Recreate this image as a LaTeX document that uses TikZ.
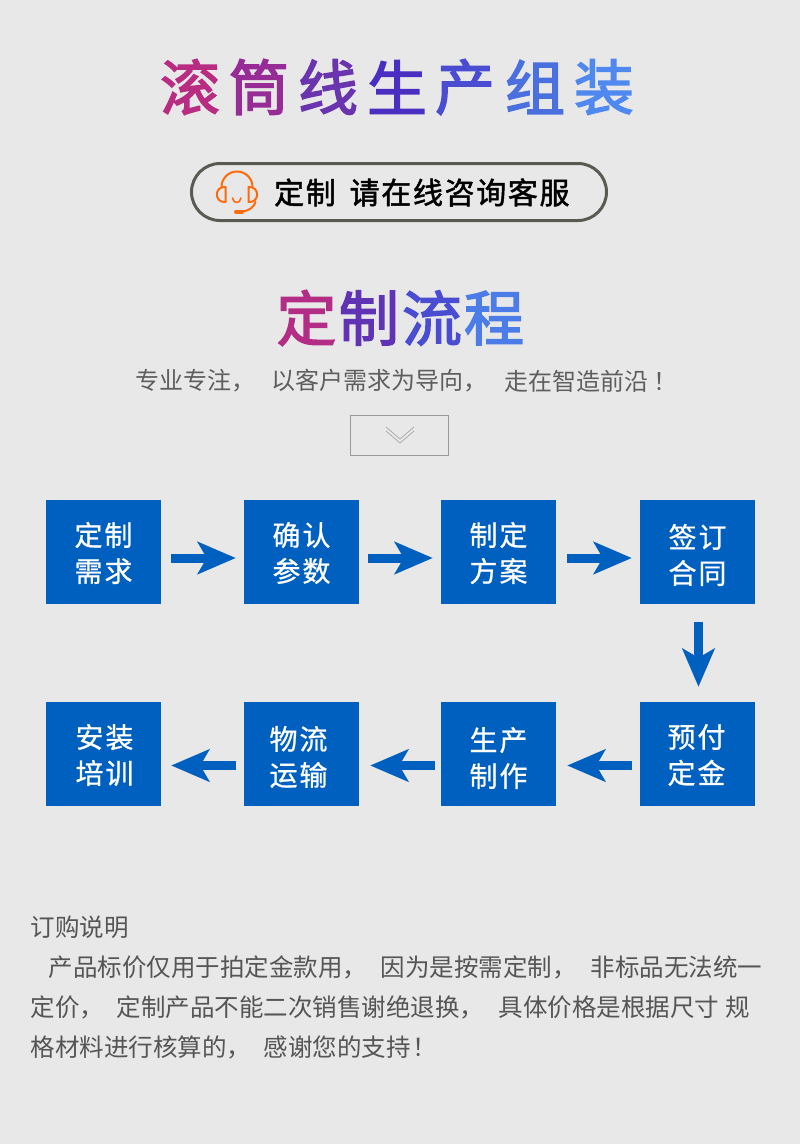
\documentclass[tikz,border=0pt]{standalone}
\usepackage{fontspec}
\usetikzlibrary{arrows.meta}
\newfontfamily\cjk{Noto Sans CJK SC}
\newfontfamily\cjktitle[FakeBold=2.4]{Noto Sans CJK SC}
\newfontfamily\cjkbox[LetterSpace=7,FakeBold=0.8]{Noto Sans CJK SC}
\newfontfamily\cjkpill[LetterSpace=5.5,FakeBold=1.6]{Noto Sans CJK SC}
\definecolor{bgc}{HTML}{E8E8E8}
\definecolor{bluec}{HTML}{0060C0}
\definecolor{orangec}{HTML}{FF6A0A}
\definecolor{pillc}{HTML}{5A5A52}
\definecolor{subc}{HTML}{5E5E5E}
\definecolor{parac}{HTML}{555555}
\definecolor{ga}{HTML}{B82C82}
\definecolor{gb}{HTML}{982C96}
\definecolor{gc}{HTML}{6A34AE}
\definecolor{gd}{HTML}{4A2EC2}
\definecolor{ge}{HTML}{4A4CD2}
\definecolor{gf}{HTML}{4A70E0}
\definecolor{gg}{HTML}{4F88EE}
\tikzset{
  x=1pt,y=-1pt,
  titlechar/.style={inner sep=0,font=\cjktitle\fontsize{60}{60}\selectfont,anchor=center},
  boxn/.style={fill=bluec,draw=none,inner sep=0,minimum width=115pt,minimum height=104pt,anchor=center},
  boxt/.style={inner sep=0,text=white,align=center,font=\cjkbox\fontsize{28}{36}\selectfont,anchor=center},
  flow/.style={draw=bluec,line width=9pt,-{Stealth[length=38pt 0,width=32pt 0,inset=9pt 0]}},
  sub/.style={inner sep=0,anchor=west,text=subc,font=\cjk\fontsize{24}{24}\selectfont},
  para/.style={inner sep=0,anchor=west,text=parac,font=\cjk\fontsize{24.5}{24.5}\selectfont},
  pilltext/.style={inner sep=0,anchor=west,text=black,font=\cjkpill\fontsize{30}{30}\selectfont},
  headset/.style={draw=orangec,line width=2pt,line cap=round,line join=round}
}
\begin{document}
\begin{tikzpicture}
\useasboundingbox (0,0) rectangle (800,1144);
\fill[bgc] (0,0) rectangle (800,1144);
% title
\node[titlechar,text=ga] (t1) at (190,87) {滚};
\node[titlechar,text=gb] (t2) at (259,87) {筒};
\node[titlechar,text=gc] (t3) at (328,87) {线};
\node[titlechar,text=gd] (t4) at (397,87) {生};
\node[titlechar,text=ge] (t5) at (465,87) {产};
\node[titlechar,text=gf] (t6) at (535,87) {组};
\node[titlechar,text=gg] (t7) at (604,87) {装};
% pill
\draw[pillc,line width=3pt,rounded corners=28.5pt] (191.5,163.5) rectangle (606.5,220.5);
\draw[headset] (221.5,187) arc[start angle=180,end angle=360,radius=15.5];
\draw[headset] (225.5,187) .. controls (214,186) and (214,203) .. (225.5,202) -- cycle;
\draw[headset] (248.5,187) .. controls (260,186) and (260,203) .. (248.5,202) -- cycle;
\draw[headset,line width=1.6pt] (232.5,198) .. controls (233.5,204) and (240,204) .. (241,198);
\draw[headset] (255.5,202) .. controls (254,207) and (249,211) .. (242,211.5);
\draw[orangec,line width=4pt,line cap=round] (236,211.5) -- (242,211.5);
\node[pilltext] (p1) at (274,192.5) {定制};
\node[pilltext] (p2) at (349.5,192.5) {请在线咨询客服};
% heading
\node[titlechar,text=ga!85!gb] (h1) at (306.5,318) {定};
\node[titlechar,text=gc!70!gd] (h2) at (369,318) {制};
\node[titlechar,text=ge] (h3) at (432,318) {流};
\node[titlechar,text=gf!50!gg] (h4) at (494,318) {程};
\node[sub] (s1) at (135.5,381) {专业专注，};
\node[sub] (s2) at (271.5,381) {以客户需求为导向，};
\node[sub] (s3) at (504.5,381) {走在智造前沿\hspace{5pt}！};
% chevron box
\draw[gray!80,line width=1pt] (350.5,415.5) rectangle (448.5,455.5);
\draw[gray!65,line width=.8pt] (386,427) -- (400,439) -- (414,427);
\draw[gray!65,line width=.8pt] (386,431) -- (400,443) -- (414,431);
% flow boxes
\node[boxn] (a) at (103.5,552) {};
\node[boxn] (b) at (301.5,552) {};
\node[boxn] (c) at (498.5,552) {};
\node[boxn] (d) at (697.5,552) {};
\node[boxn] (e) at (697.5,754) {};
\node[boxn] (f) at (498.5,754) {};
\node[boxn] (g) at (301.5,754) {};
\node[boxn] (h) at (103.5,754) {};
\node[boxt] (at) at (103.5,553) {定制\\需求};
\node[boxt] (bt) at (301.5,553) {确认\\参数};
\node[boxt] (ct) at (498.5,553) {制定\\方案};
\node[boxt] (dt) at (697.5,555) {签订\\合同};
\node[boxt] (et) at (696.5,755) {预付\\定金};
\node[boxt] (ft) at (498.5,758) {生产\\制作};
\node[boxt] (gt) at (298.5,757) {物流\\运输};
\node[boxt] (ht) at (104.5,755) {安装\\培训};
\draw[flow,shorten <=10pt,shorten >=8pt] ([yshift=-6pt]a.east) -- ([yshift=-6pt]b.west);
\draw[flow,shorten <=9pt,shorten >=8pt] ([yshift=-6pt]b.east) -- ([yshift=-6pt]c.west);
\draw[flow,shorten <=11pt,shorten >=8pt] ([yshift=-6pt]c.east) -- ([yshift=-6pt]d.west);
\draw[flow,shorten <=18pt,shorten >=15pt] ([xshift=1pt]d.south) -- ([xshift=1pt]e.north);
\draw[flow,shorten <=8pt,shorten >=11pt] ([yshift=-11.5pt]e.west) -- ([yshift=-11.5pt]f.east);
\draw[flow,shorten <=6pt,shorten >=11pt] ([yshift=-11.5pt]f.west) -- ([yshift=-11.5pt]g.east);
\draw[flow,shorten <=8pt,shorten >=10pt] ([yshift=-11.5pt]g.west) -- ([yshift=-11.5pt]h.east);
% paragraph
\node[para] (l1) at (30.5,927) {订购说明};
\node[para] (l2a) at (48.5,967) {产品标价仅用于拍定金款用，};
\node[para] (l2b) at (380.5,967) {因为是按需定制，};
\node[para] (l2c) at (590.5,967) {非标品无法统一};
\node[para] (l3a) at (30.5,1007) {定价，};
\node[para] (l3b) at (116.5,1007) {定制产品不能二次销售谢绝退换，};
\node[para] (l3c) at (498.5,1007) {具体价格是根据尺寸};
\node[para] (l3d) at (725.5,1007) {规};
\node[para] (l4a) at (30.5,1047) {格材料进行核算的，};
\node[para] (l4b) at (263.5,1047) {感谢您的支持\hspace{2pt}！};
\end{tikzpicture}
\end{document}
